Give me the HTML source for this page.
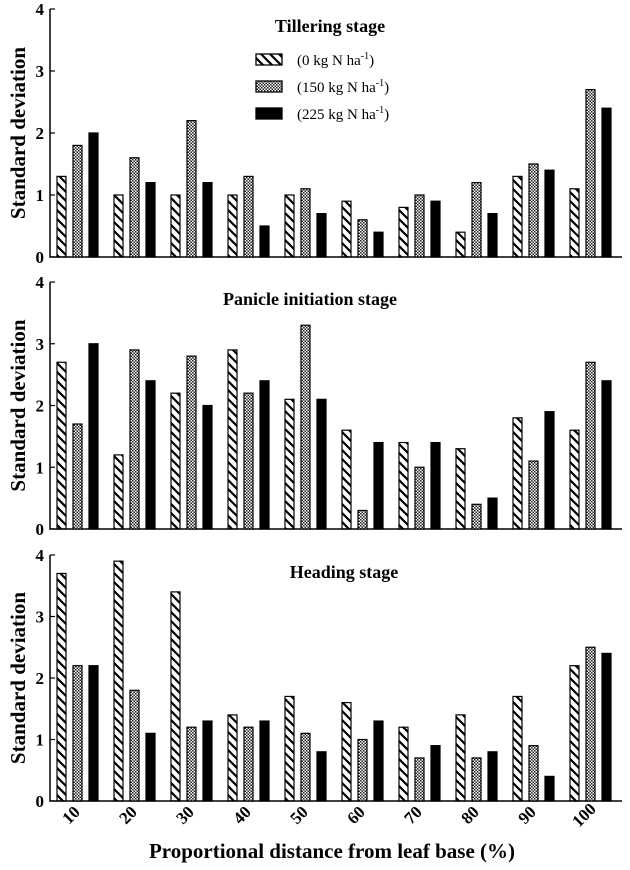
<!DOCTYPE html>
<html><head><meta charset="utf-8"><style>
body{margin:0;background:#fff}
svg{display:block;font-family:"Liberation Serif",serif}
</style></head><body>
<svg id="c" width="630" height="870" viewBox="0 0 630 870">
<defs>
<pattern id="hatch" patternUnits="userSpaceOnUse" width="9" height="9">
<path d="M-2,7 L2,11 M0,0 L9,9 M7,-2 L11,2" stroke="#000" stroke-width="2.2"/>
</pattern>
<pattern id="dots" patternUnits="userSpaceOnUse" width="3" height="3">
<rect width="3" height="3" fill="#fff"/><rect width="1.5" height="1.5" fill="#222"/><rect x="1.5" y="1.5" width="1.5" height="1.5" fill="#222"/>
</pattern>
</defs>
</svg>
<script>
const categories=["10","20","30","40","50","60","70","80","90","100"];
const tillering0=[1.3,1.0,1.0,1.0,1.0,0.9,0.8,0.4,1.3,1.1];
const tillering150=[1.8,1.6,2.2,1.3,1.1,0.6,1.0,1.2,1.5,2.7];
const tillering225=[2.0,1.2,1.2,0.5,0.7,0.4,0.9,0.7,1.4,2.4];
const panicle0=[2.7,1.2,2.2,2.9,2.1,1.6,1.4,1.3,1.8,1.6];
const panicle150=[1.7,2.9,2.8,2.2,3.3,0.3,1.0,0.4,1.1,2.7];
const panicle225=[3.0,2.4,2.0,2.4,2.1,1.4,1.4,0.5,1.9,2.4];
const heading0=[3.7,3.9,3.4,1.4,1.7,1.6,1.2,1.4,1.7,2.2];
const heading150=[2.2,1.8,1.2,1.2,1.1,1.0,0.7,0.7,0.9,2.5];
const heading225=[2.2,1.1,1.3,1.3,0.8,1.3,0.9,0.8,0.4,2.4];
const yTicks=[0,1,2,3,4];
const panelTitles=["Tillering stage","Panicle initiation stage","Heading stage"];
const legendLabels=["0","150","225"];

const NS="http://www.w3.org/2000/svg";
const svg=document.getElementById('c');
function mk(t,a,p){const e=document.createElementNS(NS,t);for(const k in a)e.setAttribute(k,a[k]);(p||svg).appendChild(e);return e;}
const fills=["url(#hatch)","url(#dots)","#000"];
const panels=[{top:9,bottom:257,s:[tillering0,tillering150,tillering225],tx:330},
{top:282,bottom:529,s:[panicle0,panicle150,panicle225],tx:310},
{top:555,bottom:801,s:[heading0,heading150,heading225],tx:344}];
const x0=50,x1=622;
const xPos=(i,k)=>57+i*57+k*16;
panels.forEach((p,pi)=>{
  const g=mk('g',{});
  
  
  const y=v=>p.bottom-(v/4)*(p.bottom-p.top);
  const ax=mk('path',{d:`M${x0},${p.top} V${p.bottom} H${x1}`,stroke:'#000','stroke-width':1.5,fill:'none'},g);
  
  
  yTicks.forEach(t=>{
    mk('line',{x1:x0,x2:x0+5,y1:y(t),y2:y(t),stroke:'#000','stroke-width':1.2},g);
    const tl=mk('text',{x:x0-6,y:y(t)+6,'text-anchor':'end','font-size':17,'font-weight':'bold'},g);
    tl.textContent=t;
    
    
  });
  p.s.forEach((arr,k)=>{arr.forEach((v,i)=>{
    const r=mk('rect',{x:xPos(i,k),y:y(v),width:9,height:p.bottom-y(v),fill:fills[k],stroke:'#000','stroke-width':1.2},g);
    
    
  });});
  const tt=mk('text',{x:p.tx,y:p.top+23,'text-anchor':'middle','font-size':18,'font-weight':'bold'},g);
  tt.textContent=panelTitles[pi];
  
  
  const cy=(p.top+p.bottom)/2;
  const yt=mk('text',{x:25,y:cy,transform:`rotate(-90 25 ${cy})`,'text-anchor':'middle','font-size':21,'font-weight':'bold'},g);
  yt.textContent="Standard deviation";
  
  
});
categories.forEach((c,i)=>{
  const cx=xPos(i,1)+2,cy=819;
  const t=mk('text',{x:cx,y:cy,transform:`rotate(-45 ${cx} ${cy})`,'text-anchor':'middle','font-size':17,'font-weight':'bold'});
  t.textContent=c;
  
  
});
const xt=mk('text',{x:332,y:858,'text-anchor':'middle','font-size':21,'font-weight':'bold'});
xt.textContent="Proportional distance from leaf base (%)";


legendLabels.forEach((l,k)=>{
  const yy=54+k*27;
  const g=mk('g',{});
  
  
  mk('rect',{x:256,y:yy,width:26,height:11,fill:fills[k],stroke:'#000','stroke-width':1.3},g);
  const t=mk('text',{x:297,y:yy+11,'font-size':15},g);
  t.innerHTML=`(${l} kg N ha<tspan dy="-6" font-size="10">-1</tspan><tspan dy="6">)</tspan>`;
});
</script>
</body></html>
